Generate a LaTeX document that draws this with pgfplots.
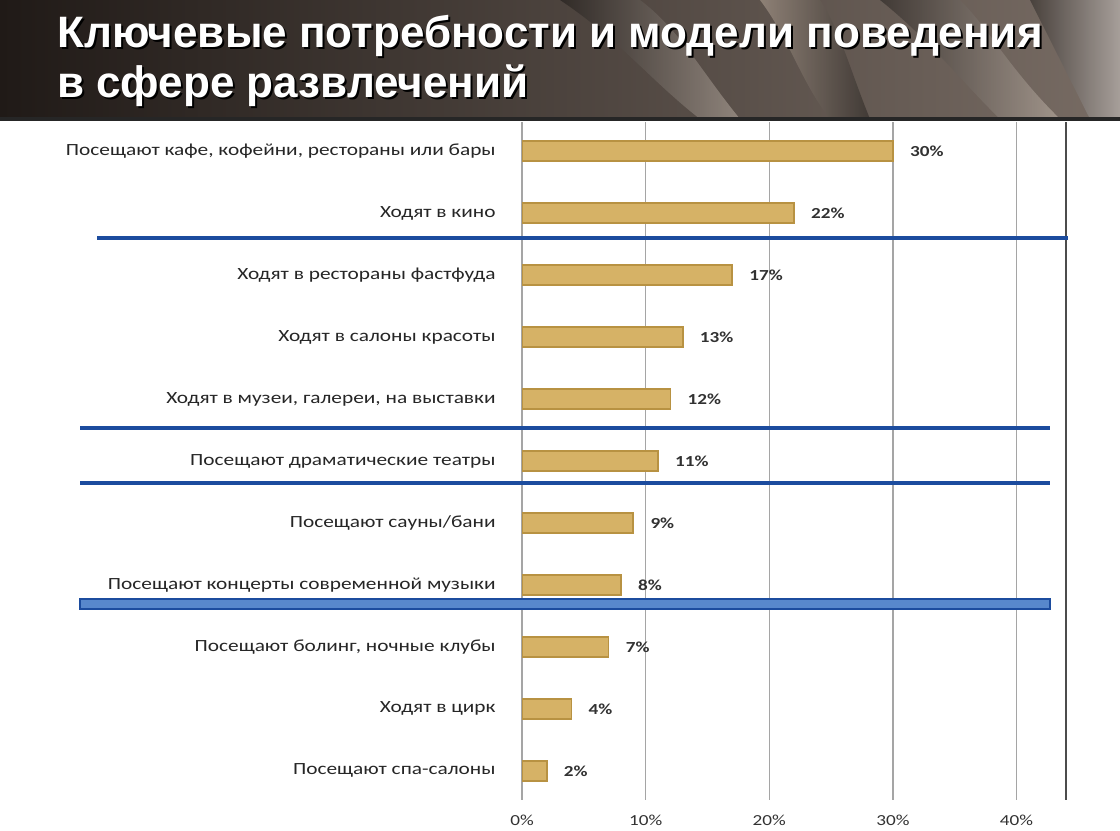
\documentclass[border=0pt]{standalone}
\usepackage{fontspec}
\setmainfont{Carlito}[FakeStretch=1.25]
\newfontfamily\titlefont{Liberation Sans}
\usepackage{pgfplots}
\pgfplotsset{compat=1.18}

\definecolor{barfill}{RGB}{214,178,102}
\definecolor{barline}{RGB}{184,146,66}
\definecolor{sepblue}{RGB}{28,76,158}
\definecolor{bandblue}{RGB}{88,136,204}
\definecolor{gridgray}{RGB}{165,165,165}
\definecolor{labelgray}{RGB}{50,50,50}

\begin{document}
\begin{tikzpicture}
\path[use as bounding box] (0,0) rectangle (840pt,-623.25pt);
\fill[white] (0,0) rectangle (840pt,-623.25pt);

% banner, in pixel units
\begin{scope}[x=0.75pt,y=-0.75pt]
  \shade[left color={rgb,255:red,32;green,26;blue,23}, middle color={rgb,255:red,48;green,39;blue,35}, right color={rgb,255:red,120;green,108;blue,100}] (0,0) rectangle (1120,119);
  \begin{scope}[opacity=0.35]
    \shade[left color=black, right color=white!80!brown] (560,0) .. controls (620,40) and (650,80) .. (700,119) -- (740,119) .. controls (700,70) and (680,30) .. (640,0) -- cycle;
    \shade[left color=white!70!brown, right color=black] (760,0) .. controls (790,40) and (800,80) .. (830,119) -- (870,119) .. controls (850,70) and (840,30) .. (820,0) -- cycle;
    \shade[left color=black, right color=white!80!brown] (880,0) .. controls (930,40) and (960,80) .. (1000,119) -- (1060,119) .. controls (1010,70) and (990,30) .. (960,0) -- cycle;
    \shade[left color=black, right color=white] (1030,0) -- (1120,0) -- (1120,119) -- (1090,119) -- cycle;
  \end{scope}
  \fill[black!85] (0,117) rectangle (1120,121);
  \foreach \dx/\col in {2/black,0/white}{
    \node[anchor=base west, text=\col, font=\titlefont\bfseries\fontsize{33}{38}\selectfont, inner sep=0pt] at (57+\dx,48+\dx) {Ключевые потребности и модели поведения};
    \node[anchor=base west, text=\col, font=\titlefont\bfseries\fontsize{33}{38}\selectfont, inner sep=0pt] at (57+\dx,98+\dx) {в сфере развлечений};
  }
\end{scope}

\begin{axis}[
  at={(391.5pt,-600pt)}, anchor=south west,
  scale only axis, width=408pt, height=508.5pt,
  xbar, bar width=15pt,
  xmin=0, xmax=44,
  ymin=-0.47, ymax=10.47, y dir=reverse,
  axis line style={draw=none},
  xtick={0,10,20,30,40},
  xticklabel={\pgfmathprintnumber{\tick}\%},
  xmajorgrids, grid style={gridgray, line width=0.9pt},
  extra x ticks={44}, extra x tick labels={},
  extra x tick style={grid style={black!70, line width=0.9pt}},
  tick style={draw=none},
  ytick={0,...,10},
  yticklabels={{Посещают кафе, кофейни, рестораны или бары},{Ходят в кино},{Ходят в рестораны фастфуда},{Ходят в салоны красоты},{Ходят в музеи, галереи, на выставки},{Посещают драматические театры},{Посещают сауны/бани},{Посещают концерты современной музыки},{Посещают болинг, ночные клубы},{Ходят в цирк},{Посещают спа-салоны}},
  yticklabel style={font=\fontsize{12.8}{15}\selectfont, text=black!85, xshift=-12pt},
  xticklabel style={font=\fontsize{11.5}{14}\selectfont, text=labelgray, yshift=-8pt},
  /pgf/number format/assume math mode=true,
  nodes near coords={\pgfmathprintnumber{\pgfplotspointmeta}\%},
  every node near coord/.append style={font=\bfseries\fontsize{11.5}{14}\selectfont, text=labelgray, xshift=9pt},
]
\addplot[fill=barfill, draw=barline, line width=1.2pt] coordinates {
  (30,0) (22,1) (17,2) (13,3) (12,4) (11,5) (9,6) (8,7) (7,8) (4,9) (2,10)
};
\end{axis}

% separators, pixel units
\begin{scope}[x=0.75pt,y=-0.75pt]
  \draw[sepblue, line width=3pt] (97,238) -- (1068,238);
  \draw[sepblue, line width=3pt] (80,428) -- (1050,428);
  \draw[sepblue, line width=3pt] (80,483) -- (1050,483);
  \filldraw[fill=bandblue, draw=sepblue, line width=1.5pt] (80,599) rectangle (1050,609);
\end{scope}
\end{tikzpicture}
\end{document}
